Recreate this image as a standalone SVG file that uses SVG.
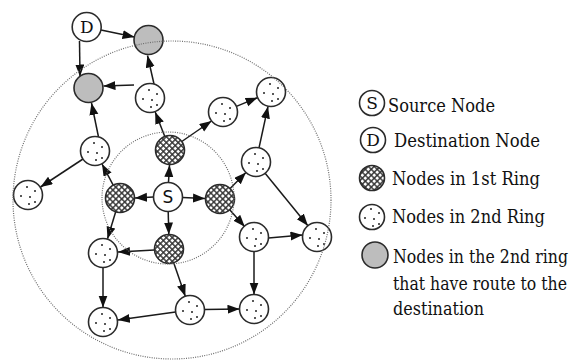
<svg xmlns="http://www.w3.org/2000/svg" xmlns:xlink="http://www.w3.org/1999/xlink" width="574" height="363" viewBox="0 0 574 363">
<style>
.n{stroke:#2b2b2b;stroke-width:1.6}
.w{fill:#fff}
.g{fill:#bdbdbd}
.h{fill:url(#hatch)}
.e line{stroke:#1a1a1a;stroke-width:1.5;marker-end:url(#ah)}
.ring{fill:none;stroke:#6e6e6e;stroke-width:1.2;stroke-dasharray:1 1.3}
text{font-family:'DejaVu Serif','Liberation Serif',serif;fill:#111}
.t{font-size:19px}
.t2{font-size:16px}
.ls{font-family:'DejaVu Sans','Liberation Sans',sans-serif;font-size:17px}
.lt{font-size:17px}
</style>
<defs>
<pattern id="hatch" patternUnits="userSpaceOnUse" width="4.2" height="4.2" patternTransform="rotate(45)">
<rect width="4.2" height="4.2" fill="#303030"/>
<rect x="0.7" y="0.7" width="2.8" height="2.8" fill="#fff"/>
</pattern>
<marker id="ah" markerUnits="userSpaceOnUse" markerWidth="13" markerHeight="10" refX="12" refY="4.5" orient="auto">
<path d="M0,0 L12,4.5 L0,9 z" fill="#111"/>
</marker>
<g id="dots" fill="#222">
<circle cx="-1" cy="-8" r="1"/>
<circle cx="-7" cy="1" r="1"/>
<circle cx="2" cy="2" r="1"/>
<circle cx="7" cy="-4" r="1"/>
<circle cx="1" cy="9" r="1"/>
<circle cx="7" cy="7" r="1"/>
</g>
</defs>
<rect width="574" height="363" fill="#fff"/>

<g id="connectors" class="e">
<line x1="101" y1="30" x2="134.5" y2="37"/>
<line x1="79.5" y1="41" x2="80" y2="76.5"/>
<line x1="154" y1="84" x2="147.5" y2="55.5"/>
<line x1="134" y1="85" x2="103.5" y2="86"/>
<line x1="164.8" y1="136.5" x2="155.2" y2="112"/>
<line x1="98.5" y1="137" x2="91.5" y2="103"/>
<line x1="83" y1="159" x2="40.5" y2="187"/>
<line x1="181.8" y1="141.5" x2="211.5" y2="121"/>
<line x1="236.4" y1="106.4" x2="257.6" y2="97.6"/>
<line x1="259" y1="147.8" x2="268" y2="106.5"/>
<line x1="230.1" y1="188.6" x2="245.9" y2="172.4"/>
<line x1="265.1" y1="173.3" x2="307.9" y2="225.7"/>
<line x1="229.7" y1="209.8" x2="244.8" y2="226.8"/>
<line x1="268.5" y1="238" x2="302.5" y2="235"/>
<line x1="254" y1="251.5" x2="254" y2="294.5"/>
<line x1="204.5" y1="309.5" x2="239.5" y2="309"/>
<line x1="168.5" y1="182.5" x2="169.5" y2="165"/>
<line x1="153.5" y1="197" x2="135" y2="198"/>
<line x1="182.5" y1="197.5" x2="205" y2="198.5"/>
<line x1="168.2" y1="211.5" x2="168.8" y2="234.5"/>
<line x1="115.7" y1="211.8" x2="107.5" y2="238.8"/>
<line x1="113.2" y1="185.2" x2="102" y2="164"/>
<line x1="154.5" y1="249.9" x2="118" y2="252.1"/>
<line x1="103" y1="267.5" x2="103" y2="307.5"/>
<line x1="173.7" y1="262.7" x2="185.3" y2="296.3"/>
<line x1="175.6" y1="312" x2="117.8" y2="320"/>
</g>

<g id="nD"><circle class="n w" cx="86.7" cy="27" r="14.5"/><text class="lt" x="86.7" y="33" text-anchor="middle">D</text></g>
<g id="nG1"><circle class="n g" cx="148.5" cy="40" r="14.5"/></g>
<g id="nG2"><circle class="n g" cx="88.5" cy="88" r="14.5"/></g>
<g id="nA"><circle class="n w" cx="150" cy="98" r="14.5"/><use href="#dots" x="150" y="98"/></g>
<g id="nB"><circle class="n w" cx="95" cy="151" r="14.5"/><use href="#dots" x="95" y="151"/></g>
<g id="nC"><circle class="n w" cx="28" cy="195" r="14.5"/><use href="#dots" x="28" y="195"/></g>
<g id="nHT"><circle class="n h" cx="170" cy="150" r="14.5"/></g>
<g id="nE"><circle class="n w" cx="223" cy="112" r="14.5"/><use href="#dots" x="223" y="112"/></g>
<g id="nF"><circle class="n w" cx="271" cy="92" r="14.5"/><use href="#dots" x="271" y="92"/></g>
<g id="nG"><circle class="n w" cx="256" cy="162" r="14.5"/><use href="#dots" x="256" y="162"/></g>
<g id="nS"><circle class="n w" cx="168" cy="197" r="14.5"/><text class="ls" x="168" y="203" text-anchor="middle">S</text></g>
<g id="nHL"><circle class="n h" cx="120" cy="198" r="14.5"/></g>
<g id="nHR"><circle class="n h" cx="220" cy="199" r="14.5"/></g>
<g id="nHB"><circle class="n h" cx="169" cy="249" r="14.5"/></g>
<g id="nH"><circle class="n w" cx="103" cy="253" r="14.5"/><use href="#dots" x="103" y="253"/></g>
<g id="nI"><circle class="n w" cx="103" cy="322" r="14.5"/><use href="#dots" x="103" y="322"/></g>
<g id="nJ"><circle class="n w" cx="190" cy="310" r="14.5"/><use href="#dots" x="190" y="310"/></g>
<g id="nK"><circle class="n w" cx="254" cy="237" r="14.5"/><use href="#dots" x="254" y="237"/></g>
<g id="nL"><circle class="n w" cx="317" cy="237" r="14.5"/><use href="#dots" x="317" y="237"/></g>
<g id="nM"><circle class="n w" cx="254" cy="309" r="14.5"/><use href="#dots" x="254" y="309"/></g>

<circle class="ring" cx="172" cy="200" r="159"/>
<circle class="ring" cx="168" cy="198" r="66"/>

<g id="legend">
<circle class="n w" cx="372" cy="103" r="12.5"/><text class="lt" x="372" y="109" text-anchor="middle">S</text>
<text class="t" x="388" y="112" textLength="107" lengthAdjust="spacingAndGlyphs">Source Node</text>
<circle class="n w" cx="373" cy="140" r="12.5"/><text class="lt" x="373" y="146" text-anchor="middle">D</text>
<text class="t" x="394" y="147" textLength="146" lengthAdjust="spacingAndGlyphs">Destination Node</text>
<circle class="n h" cx="372" cy="178" r="12.5"/>
<text class="t" x="392" y="185" textLength="148" lengthAdjust="spacingAndGlyphs">Nodes in 1st Ring</text>
<circle class="n w" cx="372" cy="217" r="12.5"/><use href="#dots" x="372" y="217"/>
<text class="t" x="392" y="223" textLength="153" lengthAdjust="spacingAndGlyphs">Nodes in 2nd Ring</text>
<circle class="n g" cx="375" cy="255" r="13"/>
<text class="t2" transform="translate(393,263) scale(1,1.19)" x="0" y="0" textLength="175" lengthAdjust="spacingAndGlyphs">Nodes in the 2nd ring</text>
<text class="t2" transform="translate(393,290) scale(1,1.19)" x="0" y="0" textLength="174" lengthAdjust="spacingAndGlyphs">that have route to the</text>
<text class="t2" transform="translate(393,315) scale(1,1.19)" x="0" y="0" textLength="91" lengthAdjust="spacingAndGlyphs">destination</text>
</g>
</svg>
